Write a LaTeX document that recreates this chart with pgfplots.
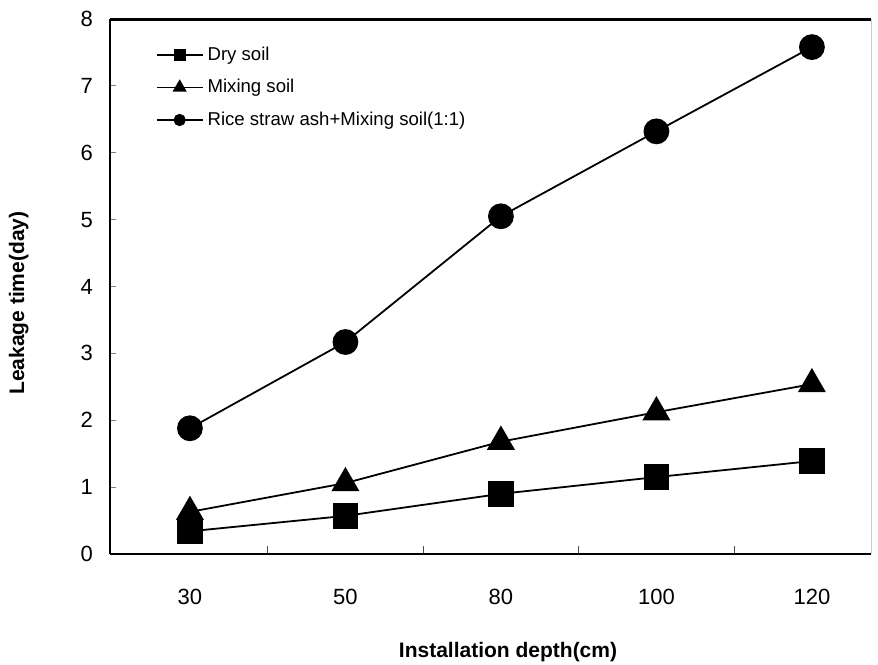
\documentclass[border=0pt]{standalone}
\usepackage{fontspec}
\setmainfont{Liberation Sans}
\usepackage{pgfplots}
\pgfplotsset{compat=1.18}
\begin{document}
\begin{tikzpicture}
\path[use as bounding box] (-55pt,-55pt) rectangle (384pt,277pt);
\begin{axis}[
  at={(0,0)}, anchor=south west,
  scale only axis, width=380.5pt, height=267.5pt,
  xmin=-0.514, xmax=4.38, ymin=0, ymax=8,
  clip=false,
  xtick={0,1,2,3,4}, xticklabels={30,50,80,100,120},
  minor xtick={0.5,1.5,2.5,3.5},
  ytick={0,1,2,3,4,5,6,7,8},
  tick pos=left, tick align=inside,
  major tick length=3pt, minor tick length=4pt,
  x tick style={draw=none},
  minor x tick style={draw=black!70, line width=0.5pt},
  y tick style={line width=0.6pt},
  /pgf/number format/assume math mode=true,
  tick label style={font=\fontsize{11}{12}\selectfont},
  xticklabel shift=14pt,
  yticklabel shift=5pt,
  axis line style={draw=none},
  xlabel={\bfseries Installation depth(cm)},
  ylabel={\bfseries Leakage time(day)},
  label style={font=\fontsize{10.5}{12}\selectfont},
  xlabel style={at={(axis description cs:0.523,-0.183)}, anchor=center},
  ylabel style={at={(axis description cs:-0.12,0.469)}, anchor=center},
  legend style={at={(axis description cs:0.057,0.96)}, anchor=north west,
    draw=none, fill=none, font=\fontsize{9.3}{10}\selectfont,
    row sep=4pt, inner sep=1pt},
  legend cell align=left,
  legend image code/.code={\draw[mark repeat=2,mark phase=2,#1] plot coordinates {(0pt,0pt) (11.5pt,0pt) (23pt,0pt)};},
]
\addlegendimage{black, line width=0.9pt, mark=square*, mark size=2.6pt}
\addlegendentry{Dry soil}
\addlegendimage{black, line width=0.9pt, mark=triangle*, mark size=3.2pt}
\addlegendentry{Mixing soil}
\addlegendimage{black, line width=0.9pt, mark=*, mark size=2.6pt}
\addlegendentry{Rice straw ash+Mixing soil(1:1)}

\addplot[black, line width=0.9pt, mark=square*, mark size=6pt, forget plot]
  coordinates {(0,0.34) (1,0.57) (2,0.90) (3,1.15) (4,1.39)};
\addplot[black, line width=0.9pt, mark=triangle*, mark size=7.2pt, forget plot]
  coordinates {(0,0.63) (1,1.06) (2,1.68) (3,2.12) (4,2.54)};
\addplot[black, line width=0.9pt, mark=*, mark size=6pt, forget plot]
  coordinates {(0,1.88) (1,3.17) (2,5.05) (3,6.32) (4,7.58)};

\draw[line width=1.3pt] (rel axis cs:0,0) -- (rel axis cs:1,0);
\draw[line width=1.1pt] (rel axis cs:0,0) -- (rel axis cs:0,1);
\draw[line width=1.5pt] (rel axis cs:0,1) -- (rel axis cs:1,1);
\draw[line width=0.4pt, gray!40] (rel axis cs:1,0) -- (rel axis cs:1,1);
\end{axis}
\end{tikzpicture}
\end{document}
